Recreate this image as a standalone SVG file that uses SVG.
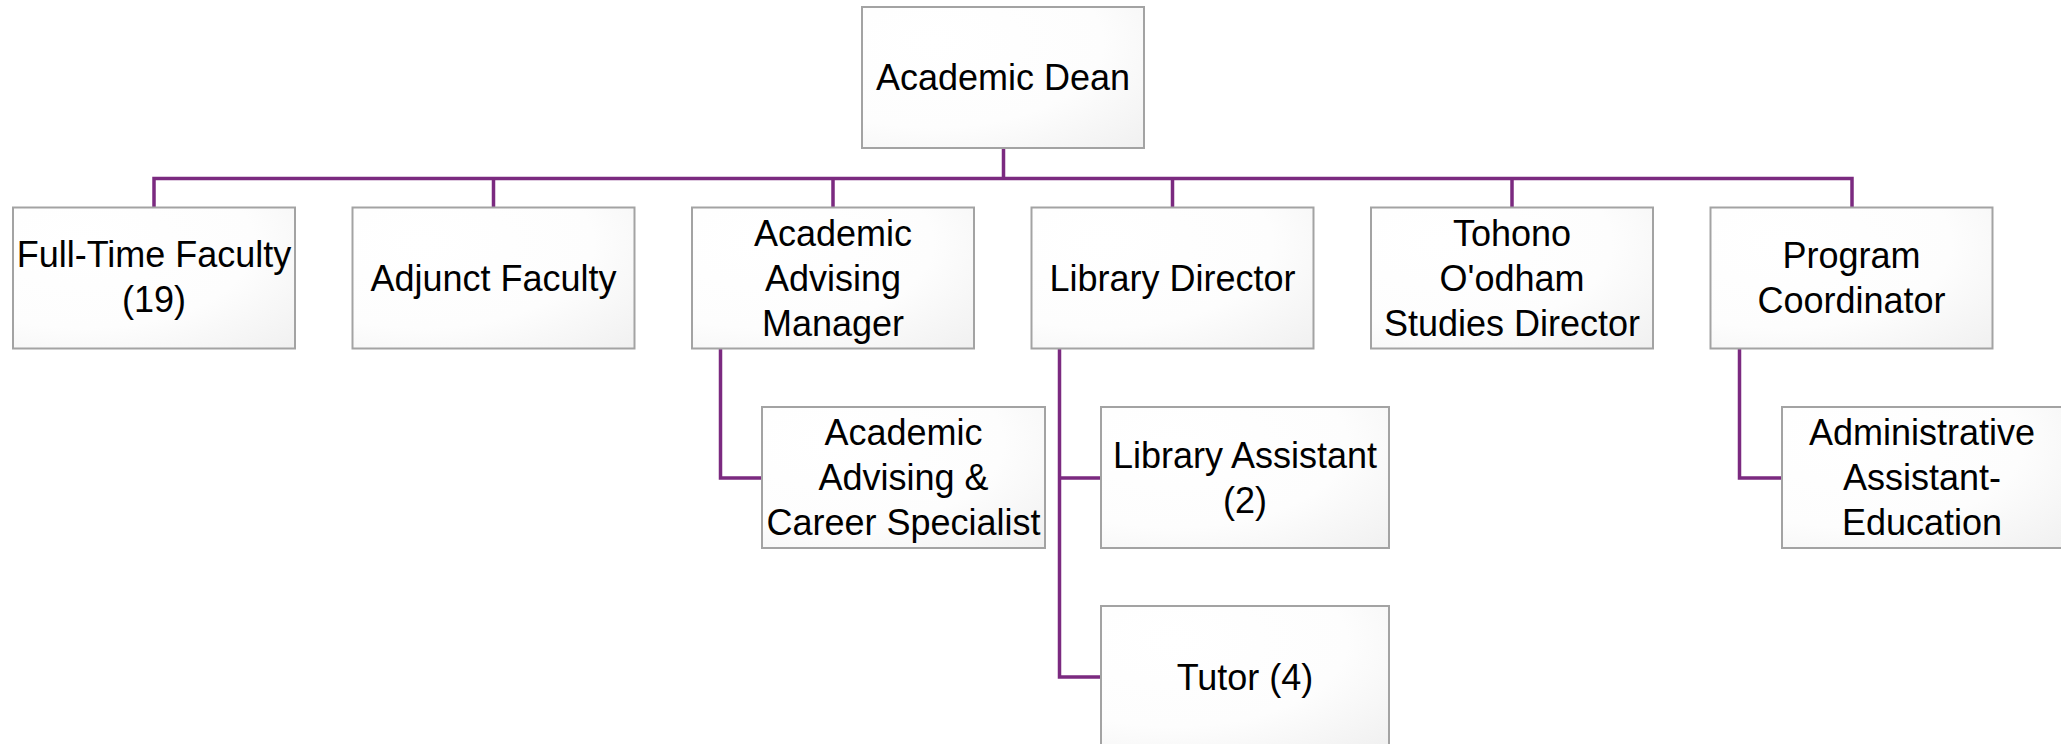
<svg xmlns="http://www.w3.org/2000/svg" width="2061" height="744" viewBox="0 0 2061 744">
<defs>
<radialGradient id="g" cx="0.25" cy="0.25" r="1.1" fx="0.25" fy="0.25">
<stop offset="0" stop-color="#FFFFFF"/>
<stop offset="0.55" stop-color="#FDFDFD"/>
<stop offset="1" stop-color="#EFEFEF"/>
</radialGradient>
</defs>
<style>
.box{fill:url(#g);stroke:#A3A3A3;stroke-width:2}
.t{font-family:"Liberation Sans",Arial,sans-serif;font-size:36px;fill:#000;text-anchor:middle}
.c{fill:none;stroke:#7B2A80;stroke-width:3.5}
</style>
<rect width="2061" height="744" fill="#FFFFFF"/>
<g id="connectors">
<path class="c" d="M1003.5 148V178.5M154 207V178.5H1852V207M493.5 178.5V207M833 178.5V207M1172.5 178.5V207M1512 178.5V207"/>
<path class="c" d="M720.5 348V478H762"/>
<path class="c" d="M1059.5 348V677H1101M1059.5 478H1101"/>
<path class="c" d="M1739.5 348V478H1782"/>
</g>
<g id="academic-dean"><rect class="box" x="862" y="7" width="282" height="141"/><text class="t" x="1003" y="90">Academic Dean</text></g>
<g id="full-time-faculty"><rect class="box" x="13" y="207.5" width="282" height="141"/><text class="t" x="154" y="267">Full-Time Faculty</text><text class="t" x="154" y="312">(19)</text></g>
<g id="adjunct-faculty"><rect class="box" x="352.5" y="207.5" width="282" height="141"/><text class="t" x="493.5" y="290.5">Adjunct Faculty</text></g>
<g id="academic-advising-manager"><rect class="box" x="692" y="207.5" width="282" height="141"/><text class="t" x="833" y="245.5">Academic</text><text class="t" x="833" y="290.5">Advising</text><text class="t" x="833" y="335.5">Manager</text></g>
<g id="library-director"><rect class="box" x="1031.5" y="207.5" width="282" height="141"/><text class="t" x="1172.5" y="290.5">Library Director</text></g>
<g id="tohono-oodham-studies-director"><rect class="box" x="1371" y="207.5" width="282" height="141"/><text class="t" x="1512" y="245.5">Tohono</text><text class="t" x="1512" y="290.5">O'odham</text><text class="t" x="1512" y="335.5">Studies Director</text></g>
<g id="program-coordinator"><rect class="box" x="1710.5" y="207.5" width="282" height="141"/><text class="t" x="1851.5" y="268">Program</text><text class="t" x="1851.5" y="313">Coordinator</text></g>
<g id="academic-advising-career-specialist"><rect class="box" x="762" y="407" width="283" height="141"/><text class="t" x="903.5" y="445">Academic</text><text class="t" x="903.5" y="490">Advising &amp;</text><text class="t" x="903.5" y="535">Career Specialist</text></g>
<g id="library-assistant"><rect class="box" x="1101" y="407" width="288" height="141"/><text class="t" x="1245" y="467.5">Library Assistant</text><text class="t" x="1245" y="512.5">(2)</text></g>
<g id="tutor"><rect class="box" x="1101" y="606" width="288" height="141"/><text class="t" x="1245" y="690">Tutor (4)</text></g>
<g id="administrative-assistant-education"><rect class="box" x="1782" y="407" width="282" height="141"/><text class="t" x="1922" y="445">Administrative</text><text class="t" x="1922" y="490">Assistant-</text><text class="t" x="1922" y="535">Education</text></g>
</svg>
